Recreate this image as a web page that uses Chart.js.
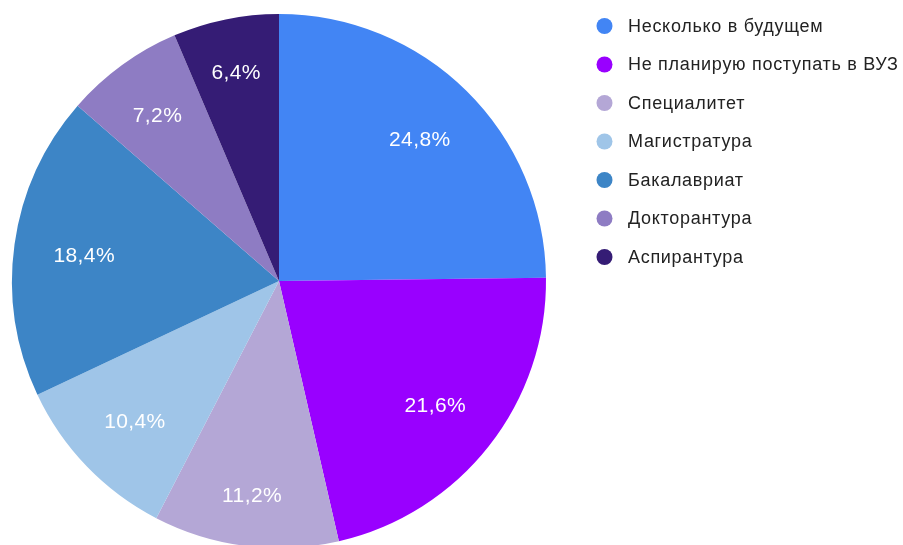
<!DOCTYPE html>
<html><head><meta charset="utf-8">
<script src="https://cdn.jsdelivr.net/npm/chart.js@4/dist/chart.umd.min.js"></script>
<style>html,body{margin:0;padding:0;background:#fff;overflow:hidden;width:903px;height:545px}
#wrap{position:absolute;left:0;top:0;width:903px;height:562px}</style>
</head><body>
<div id="wrap"><canvas id="c" width="903" height="562"></canvas></div>
<script>
const categories = ["Несколько в будущем","Не планирую поступать в ВУЗ","Специалитет","Магистратура","Бакалавриат","Докторантура","Аспирантура"];
const shares = [24.8, 21.6, 11.2, 10.4, 18.4, 7.2, 6.4];
const colors = ["#4285f4","#9900ff","#b4a7d6","#9fc5e8","#3d85c6","#8e7cc3","#351c75"];

const labelPlugin = {
  id: 'sliceLabels',
  afterDatasetsDraw(chart) {
    const ctx = chart.ctx;
    const meta = chart.getDatasetMeta(0);
    ctx.save();
    ctx.fillStyle = '#ffffff';
    ctx.font = '21px "Liberation Sans"';
    ctx.letterSpacing = '0.4px';
    ctx.textAlign = 'center';
    ctx.textBaseline = 'middle';
    meta.data.forEach((arc, i) => {
      const p = arc.getProps(['x','y','startAngle','endAngle','outerRadius'], true);
      const a = (p.startAngle + p.endAngle) / 2;
      const txt = shares[i].toFixed(1).replace('.', ',') + '%';
      const hw = ctx.measureText(txt).width / 2, hh = 8;
      const ux = Math.abs(Math.cos(a)), uy = Math.abs(Math.sin(a));
      const R0 = p.outerRadius * 0.855;
      const b = hw * ux + hh * uy, c = hw * hw + hh * hh - R0 * R0;
      const d = -b + Math.sqrt(b * b - c);
      ctx.fillText(txt, p.x + Math.cos(a) * d, p.y + Math.sin(a) * d + 2);
    });
    ctx.restore();
  }
};
const legendPlugin = {
  id: 'sideLegend',
  afterDraw(chart) {
    const ctx = chart.ctx;
    ctx.save();
    ctx.font = '18px "Liberation Sans"';
    ctx.letterSpacing = '0.7px';
    ctx.textBaseline = 'middle';
    ctx.textAlign = 'left';
    chart.data.labels.forEach((lab, i) => {
      const y = 26 + i * 38.5;
      ctx.fillStyle = colors[i];
      ctx.beginPath();
      ctx.arc(604.5, y, 8, 0, Math.PI * 2);
      ctx.fill();
      ctx.fillStyle = '#222222';
      ctx.fillText(lab, 628, y + 1);
    });
    ctx.restore();
  }
};

new Chart(document.getElementById('c'), {
  type: 'pie',
  data: {
    labels: categories,
    datasets: [{ data: shares, backgroundColor: colors, borderWidth: 0 }]
  },
  options: {
    responsive: false,
    animation: false,
    layout: { padding: { left: 12, right: 357, top: 14, bottom: 14 } },
    plugins: { legend: { display: false }, tooltip: { enabled: false } }
  },
  plugins: [labelPlugin, legendPlugin]
});
</script>
</body></html>
